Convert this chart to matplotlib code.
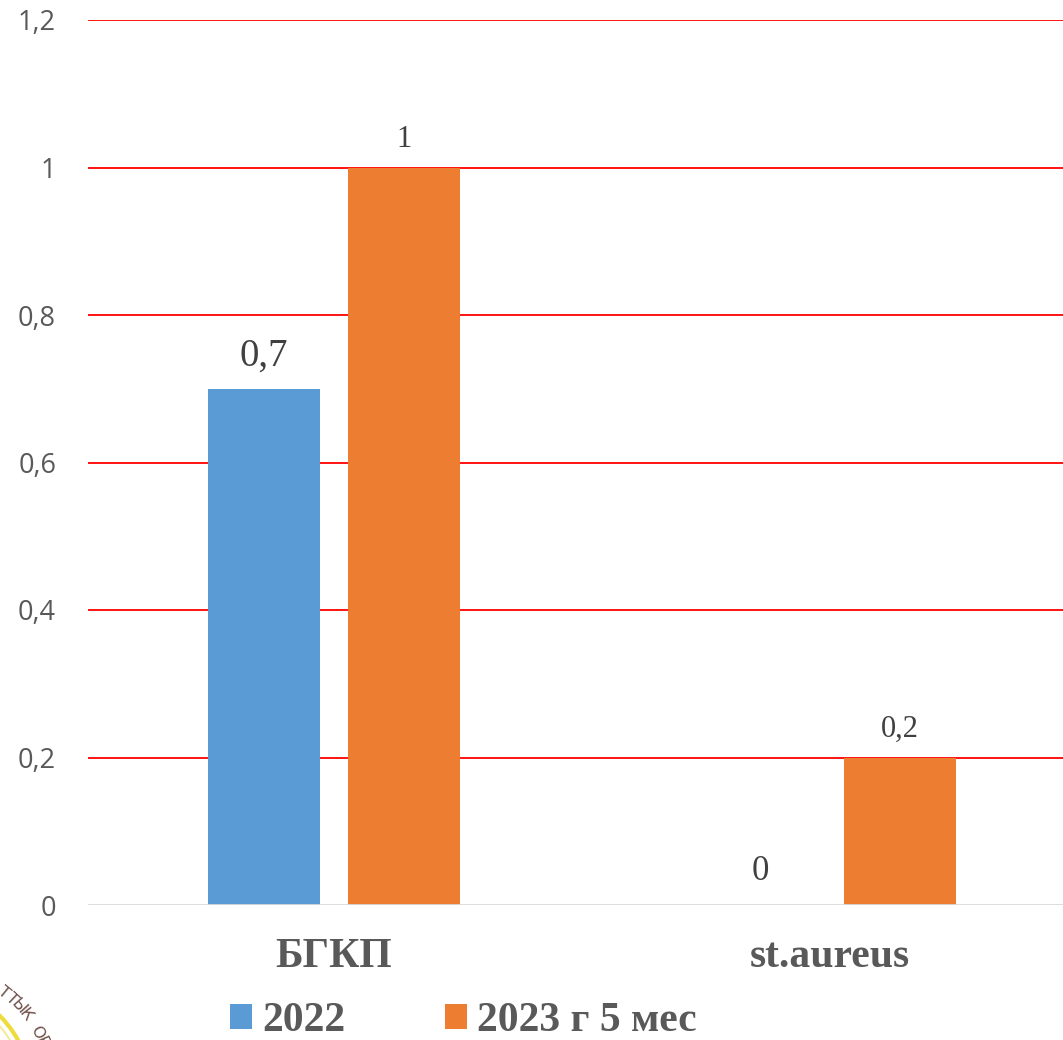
import numpy as np
import matplotlib.pyplot as plt
from matplotlib.patches import Circle

categories = ['БГКП', 'st.aureus']
series = ['2022', '2023 г 5 мес']
vals_2022 = [0.7, 0.0]
vals_2023 = [1.0, 0.2]
val_labels_2022 = ['0,7', '0']
val_labels_2023 = ['1', '0,2']
ytick_vals = [0, 0.2, 0.4, 0.6, 0.8, 1.0, 1.2]
ytick_labels = ['0', '0,2', '0,4', '0,6', '0,8', '1', '1,2']

c_blue = '#5B9BD5'
c_orange = '#ED7D31'

W, H = 1063, 1040
fig = plt.figure(figsize=(W / 100, H / 100), dpi=100)
ax = fig.add_axes([88 / W, (H - 905) / H, 1 - 88 / W, 885 / H])

x = np.arange(len(categories))
off = 0.141
bw = 0.226
ax.bar(x - off, vals_2022, bw, color=c_blue, zorder=3, label=series[0])
ax.bar(x + off, vals_2023, bw, color=c_orange, zorder=3, label=series[1])

ax.set_xlim(-0.496, 1.47)
ax.set_ylim(0, 1.2)
ax.set_yticks(ytick_vals)
ax.set_yticklabels(ytick_labels, fontsize=19.5, color='#595959', family='Open Sans')
ax.tick_params(axis='y', length=0, pad=23)
ax.set_xticks(x)
ax.set_xticklabels(categories, fontsize=30, fontweight='bold', color='#595959',
                   family='Liberation Serif')
ax.tick_params(axis='x', length=0, pad=24)

for v in ytick_vals[1:]:
    ax.axhline(v, color='#FF0000', lw=1.3, zorder=1)
ax.axhline(0, color='#D9D9D9', lw=2, zorder=4)
for s in ax.spines.values():
    s.set_visible(False)

# value labels, sizes differ per label
lab_sizes_2022 = [28, 25]
lab_sizes_2023 = [22, 22]
for i in range(len(categories)):
    ax.annotate(val_labels_2022[i], (x[i] - off, vals_2022[i]), xytext=(0, 10 if vals_2022[i] > 0 else 12),
                textcoords='offset points', ha='center', va='bottom',
                fontsize=lab_sizes_2022[i], color='#404040', family='Liberation Serif')
    ax.annotate(val_labels_2023[i], (x[i] + off, vals_2023[i]), xytext=(0, 10),
                textcoords='offset points', ha='center', va='bottom',
                fontsize=lab_sizes_2023[i], color='#404040', family='Liberation Serif')

# legend
h, l = ax.get_legend_handles_labels()
fig.legend(h, l, loc='lower left', bbox_to_anchor=(230 / W, 0), ncol=2, frameon=False,
           borderpad=0, borderaxespad=0,
           prop={'family': 'Liberation Serif', 'weight': 'bold', 'size': 30},
           labelcolor='#595959', handlelength=0.53, handleheight=0.53, handletextpad=0.24,
           columnspacing=2.4)

# partial stamp in the lower-left corner
ov = fig.add_axes([0, 0, 1, 1], zorder=-1)
ov.set_xlim(0, W)
ov.set_ylim(H, 0)
ov.axis('off')
cx, cy = -79, 1094
ov.add_patch(Circle((cx, cy), 111, fill=False, ec='#EEDC3C', lw=3))
ov.add_patch(Circle((cx, cy), 104, fill=False, ec='#F5EB9A', lw=1.5))
stamp_txt = 'ТТЫК ОР'
ang0, dang = -51, 4.6
for k, ch in enumerate(stamp_txt):
    a = np.deg2rad(ang0 + k * dang)
    px, py = cx + 131 * np.cos(a), cy + 131 * np.sin(a)
    ov.text(px, py, ch, fontsize=11.5, color='#6E5048', ha='center', va='center',
            rotation=-np.rad2deg(a) - 90, family='DejaVu Sans')

fig.savefig('out.png', dpi=100)
